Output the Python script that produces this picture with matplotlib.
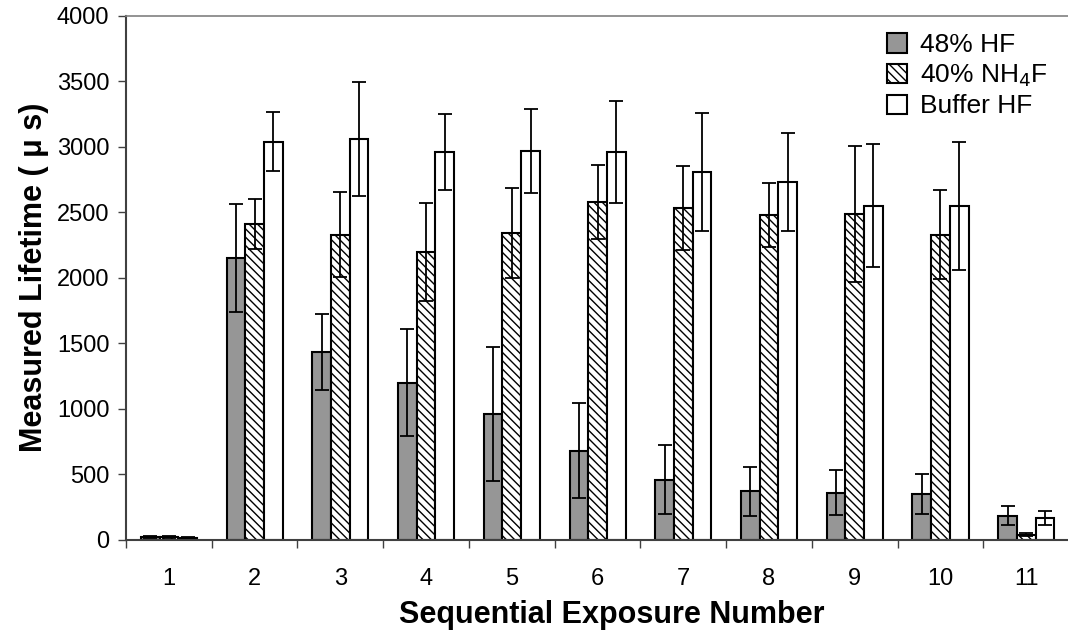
import matplotlib
matplotlib.use("Agg")
import matplotlib.pyplot as plt
import numpy as np

plt.rcParams['font.family'] = ['Liberation Sans', 'DejaVu Sans']
plt.rcParams['hatch.linewidth'] = 1.0

exposures = ['1', '2', '3', '4', '5', '6', '7', '8', '9', '10', '11']
series_names = ['48% HF', '40% NH$_4$F', 'Buffer HF']

hf48 = [20, 2150, 1430, 1200, 960, 680, 460, 370, 360, 350, 185]
hf48_err = [10, 410, 290, 410, 515, 365, 265, 185, 170, 150, 75]
nh4f40 = [20, 2410, 2330, 2200, 2340, 2580, 2530, 2480, 2490, 2330, 40]
nh4f40_err = [10, 190, 325, 375, 345, 280, 320, 245, 520, 340, 15]
buffer_hf = [15, 3040, 3060, 2960, 2970, 2960, 2810, 2730, 2550, 2550, 165]
buffer_hf_err = [5, 225, 435, 290, 320, 390, 450, 375, 470, 490, 55]

fig = plt.figure(figsize=(10.68, 6.35), dpi=100)
ax = fig.add_axes([0.118, 0.150, 0.883, 0.825])

x = np.arange(len(exposures))
w = 0.218
styles = [
    dict(facecolor='#969696', hatch=None),
    dict(facecolor='white', hatch='\\\\\\\\'),
    dict(facecolor='white', hatch=None),
]
data = [(hf48, hf48_err), (nh4f40, nh4f40_err), (buffer_hf, buffer_hf_err)]
for i, ((vals, errs), st, name) in enumerate(zip(data, styles, series_names)):
    pos = x + (i - 1) * w
    ax.bar(pos, vals, width=w, facecolor=st['facecolor'], hatch=st['hatch'],
           edgecolor='black', linewidth=1.5, label=name, zorder=2)
    ax.errorbar(pos, vals, yerr=errs, fmt='none', ecolor='black',
                elinewidth=1.3, capsize=5, capthick=1.3, zorder=3)

ax.set_xlim(-0.5, len(exposures) - 0.5)
ax.set_ylim(0, 4000)
ax.set_yticks(np.arange(0, 4001, 500))
ax.set_xticks(x)
ax.set_xticklabels(exposures)
ax.set_xticks(np.arange(-0.5, len(exposures), 1.0), minor=True)
ax.tick_params(axis='x', which='major', length=0, pad=20, labelsize=17)
ax.tick_params(axis='x', which='minor', length=6, width=1, color='#404040', direction='out')
ax.tick_params(axis='y', length=6, width=1, color='#404040', labelsize=17, pad=6)

for side in ['left', 'bottom']:
    ax.spines[side].set_color('#404040')
    ax.spines[side].set_linewidth(1.5)
ax.spines['top'].set_color('#808080')
ax.spines['top'].set_linewidth(1.2)
ax.spines['right'].set_visible(False)

ax.set_xlabel('Sequential Exposure Number', fontsize=22, fontweight='bold', labelpad=8)
ax.xaxis.set_label_coords(0.515, -0.115)
ax.set_ylabel('Measured Lifetime ( μ s)', fontsize=22, fontweight='bold', labelpad=6)

leg = ax.legend(loc='upper right', bbox_to_anchor=(1.003, 1.012), frameon=False,
                fontsize=19, handlelength=0.75, handleheight=0.75, handletextpad=0.5,
                labelspacing=0.2)

fig.savefig('out.png', dpi=100)
